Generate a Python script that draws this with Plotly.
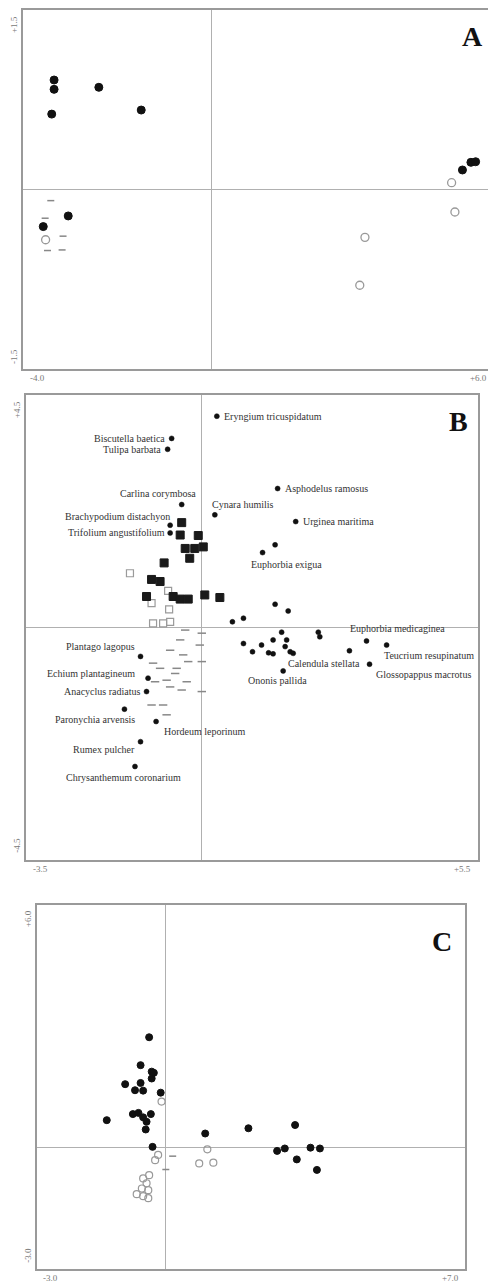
import plotly.graph_objects as go

# ---------------- Panel A ----------------
a_fill_x = [-3.34, -3.34, -3.39, -2.39, -1.49, -3.04, -3.57, 5.33, 5.51, 5.61]
a_fill_y = [0.915, 0.837, 0.63, 0.854, 0.664, -0.221, -0.31, 0.163, 0.227, 0.232]
a_open_x = [5.10, 5.17, 3.26, 3.15, -3.52]
a_open_y = [0.057, -0.188, -0.40, -0.80, -0.42]
a_small_x = [-3.41, -3.53, -3.15, -3.48, -3.17]
a_small_y = [-0.093, -0.24, -0.39, -0.51, -0.505]
a_xrange = [-4.0, 6.0]
a_yrange = [-1.5, 1.5]
a_xticks = ["-4.0", "+6.0"]
a_yticks = ["-1.5", "+1.5"]

# ---------------- Panel B ----------------
b_species = ["Eryngium tricuspidatum", "Biscutella baetica", "Tulipa barbata",
             "Asphodelus ramosus", "Carlina corymbosa", "Cynara humilis",
             "Brachypodium distachyon", "Trifolium angustifolium", "Urginea maritima",
             "Euphorbia exigua", "Euphorbia medicaginea", "Teucrium resupinatum",
             "Calendula stellata", "Glossopappus macrotus", "Ononis pallida",
             "Plantago lagopus", "Echium plantagineum", "Anacyclus radiatus",
             "Paronychia arvensis", "Hordeum leporinum", "Rumex pulcher",
             "Chrysanthemum coronarium"]
b_species_x = [0.30, -0.60, -0.68, 1.51, -0.40, 0.26, -0.63, -0.63, 1.87,
               1.21, 3.28, 3.68, 2.94, 3.34, 1.62, -1.22, -1.07, -1.10,
               -1.54, -0.91, -1.22, -1.33]
b_species_y = [4.09, 3.66, 3.45, 2.69, 2.38, 2.18, 1.98, 1.83, 2.05,
               1.45, -0.26, -0.34, -0.45, -0.71, -0.84, -0.56, -0.98, -1.24,
               -1.58, -1.82, -2.21, -2.69]
# label placement: (anchor, xshift, yshift)
b_label_pos = [("left", 5, 0), ("right", -5, 0), ("right", -5, 0),
               ("left", 5, 0), ("right", 16, 11), ("left", -5, 10),
               ("right", 2, 9), ("right", -3, 0), ("left", 5, 0),
               ("center", 24, -12), ("left", -19, 12), ("left", -5, -10),
               ("right", 13, -13), ("left", 4, -10), ("center", -6, -10),
               ("right", -4, 10), ("right", -11, 5), ("right", -5, 0),
               ("right", 13, -10), ("left", 6, -10), ("right", -4, -8),
               ("center", -11, -11)]

b_big_x = [-0.40, -0.43, -0.07, -0.33, -0.14, 0.03, -0.24, -0.75, -1.00, -0.83,
           -1.10, -0.57, -0.43, -0.27, 0.06, 0.36]
b_big_y = [2.03, 1.79, 1.78, 1.53, 1.53, 1.56, 1.34, 1.25, 0.93, 0.89,
           0.60, 0.60, 0.55, 0.55, 0.63, 0.58]
b_open_x = [-1.43, -0.67, -1.00, -0.65, -0.97, -0.77, -0.63]
b_open_y = [1.05, 0.71, 0.47, 0.35, 0.08, 0.08, 0.11]
b_dot_x = [1.46, 1.46, 1.72, 0.61, 0.83, 1.59, 2.32, 2.35, 0.83, 1.01, 1.19,
           1.42, 1.69, 1.66, 1.76, 1.33, 1.42, 1.82]
b_dot_y = [1.60, 0.45, 0.32, 0.11, 0.18, -0.09, -0.09, -0.18, -0.31, -0.47, -0.34,
           -0.24, -0.24, -0.37, -0.47, -0.49, -0.51, -0.50]
b_small_x = [-0.33, 0.00, -0.43, -0.04, -0.63, -0.37, -0.27, 0.00, -0.97, -0.83,
             -0.50, -0.53, -0.70, -0.30, -0.93, -0.63, -0.40, 0.00, -1.00, -0.77, -0.70]
b_small_y = [-0.05, -0.11, -0.24, -0.34, -0.44, -0.53, -0.66, -0.66, -0.69, -0.79,
             -0.79, -0.89, -1.02, -1.05, -1.05, -1.15, -1.21, -1.24, -1.50, -1.50, -1.69]
b_xrange = [-3.5, 5.5]
b_yrange = [-4.5, 4.5]
b_xticks = ["-3.5", "+5.5"]
b_yticks = ["-4.5", "+4.5"]

# ---------------- Panel C ----------------
c_fill_x = [-0.38, -0.58, -0.32, -0.27, -0.32, -0.94, -0.58, -0.71, -0.52, -0.11,
            -0.76, -0.63, -0.52, -0.34, -0.44, -0.46, -1.37, -0.30, 0.93, 1.94,
            3.03, 2.61, 2.79, 3.07, 3.39, 3.61, 3.54]
c_fill_y = [2.73, 2.04, 1.88, 1.85, 1.71, 1.57, 1.60, 1.42, 1.41, 1.36,
            0.83, 0.86, 0.75, 0.83, 0.64, 0.45, 0.68, 0.02, 0.35, 0.48,
            0.56, -0.08, -0.02, -0.29, 0.00, -0.02, -0.55]
c_open_x = [-0.09, 0.98, 0.79, 1.12, -0.17, -0.24, -0.38, -0.52, -0.44, -0.55,
            -0.40, -0.67, -0.52, -0.40]
c_open_y = [1.14, -0.04, -0.39, -0.37, -0.18, -0.31, -0.68, -0.76, -0.88, -1.01,
            -1.05, -1.15, -1.20, -1.25]
c_small_x = [0.17, 0.01]
c_small_y = [-0.21, -0.54]
c_xrange = [-3.0, 7.0]
c_yrange = [-3.0, 6.0]
c_xticks = ["-3.0", "+7.0"]
c_yticks = ["-3.0", "+6.0"]

PAGE_W, PAGE_H = 496, 1285
OFF = 8  # default body margin of the html page
W, H = PAGE_W - OFF, PAGE_H - OFF
FONT = "Liberation Serif"
FRAME = "#9a9a9a"
TICKFONT = dict(family=FONT, size=9, color="#777777")

fig = go.Figure()

def add_points(x, y, xa, ya, symbol, size, color, line_color, line_w):
    fig.add_trace(go.Scatter(
        x=x, y=y, xaxis=xa, yaxis=ya, mode="markers", showlegend=False,
        hoverinfo="skip", cliponaxis=False,
        marker=dict(symbol=symbol, size=size, color=color,
                    line=dict(color=line_color, width=line_w))))

# A
add_points(a_fill_x, a_fill_y, "x", "y", "circle", 8, "#111111", "#111111", 1)
add_points(a_open_x, a_open_y, "x", "y", "circle-open", 8, "#999999", "#999999", 1.3)
add_points(a_small_x, a_small_y, "x", "y", "line-ew-open", 5, "#888888", "#888888", 1.5)
# B
add_points(b_small_x, b_small_y, "x2", "y2", "line-ew-open", 6, "#888888", "#888888", 1.5)
add_points(b_open_x, b_open_y, "x2", "y2", "square-open", 7, "#9a9a9a", "#9a9a9a", 1.2)
add_points(b_big_x, b_big_y, "x2", "y2", "square", 8, "#1a1a1a", "#1a1a1a", 1)
add_points(b_dot_x, b_dot_y, "x2", "y2", "circle", 5, "#111111", "#111111", 0.5)
add_points(b_species_x, b_species_y, "x2", "y2", "circle", 5, "#111111", "#111111", 0.5)
# C
add_points(c_open_x, c_open_y, "x3", "y3", "circle-open", 7, "#999999", "#999999", 1.2)
add_points(c_small_x, c_small_y, "x3", "y3", "line-ew-open", 5, "#888888", "#888888", 1.5)
add_points(c_fill_x, c_fill_y, "x3", "y3", "circle", 7, "#111111", "#111111", 1)

annotations = []
for name, sx, sy, (anc, dx, dy) in zip(b_species, b_species_x, b_species_y, b_label_pos):
    annotations.append(dict(x=sx, y=sy, xref="x2", yref="y2", text=name,
                            showarrow=False, xanchor=anc, yanchor="middle",
                            xshift=dx, yshift=dy,
                            font=dict(family=FONT, size=10, color="#333333")))

# (letter, xaxis, yaxis, x-labels, y-labels, letter position in axis-domain units)
panels = [("A", "x", "y", a_xticks, a_yticks, (0.955, 0.925)),
          ("B", "x2", "y2", b_xticks, b_yticks, (0.956, 0.942)),
          ("C", "x3", "y3", c_xticks, c_yticks, (0.946, 0.90))]
for letter, xa, ya, xt, yt, (lx, ly) in panels:
    annotations.append(dict(x=lx, y=ly, xref=xa + " domain", yref=ya + " domain",
                            text="<b>%s</b>" % letter, showarrow=False,
                            xanchor="center", yanchor="middle",
                            font=dict(family=FONT, size=28, color="#111111")))
    # end-of-axis range labels
    annotations.append(dict(x=0.01, y=0, xref=xa + " domain", yref=ya + " domain",
                            text=xt[0], showarrow=False, xanchor="left", yanchor="top",
                            yshift=-2, font=TICKFONT))
    annotations.append(dict(x=0.99, y=0, xref=xa + " domain", yref=ya + " domain",
                            text=xt[1], showarrow=False, xanchor="right", yanchor="top",
                            yshift=-2, font=TICKFONT))
    annotations.append(dict(x=0, y=0.99, xref=xa + " domain", yref=ya + " domain",
                            text=yt[1], showarrow=False, xanchor="right", yanchor="top",
                            xshift=-2, textangle=-90, font=TICKFONT))
    annotations.append(dict(x=0, y=0.01, xref=xa + " domain", yref=ya + " domain",
                            text=yt[0], showarrow=False, xanchor="right", yanchor="bottom",
                            xshift=-2, textangle=-90, font=TICKFONT))

def xaxis(domain, anchor, rng):
    return dict(domain=domain, anchor=anchor, range=rng, showgrid=False,
                zeroline=True, zerolinecolor="#b0b0b0", zerolinewidth=1,
                showline=True, linecolor=FRAME, linewidth=2, mirror=True,
                showticklabels=False, ticks="", automargin=False,
                fixedrange=True)

def yaxis(domain, anchor, rng, step):
    return dict(domain=domain, anchor=anchor, range=rng, showgrid=False,
                zeroline=True, zerolinecolor="#b0b0b0", zerolinewidth=1,
                showline=True, linecolor=FRAME, linewidth=2, mirror=True,
                showticklabels=False, ticks="", automargin=False,
                minor=dict(ticks="inside", ticklen=3, tickcolor="#c8c8c8", dtick=step),
                fixedrange=True)

def px_x(a, b):
    return [(a - OFF) / W, (b - OFF) / W]

def px_y(top, bottom):
    return [1 - (bottom - OFF) / H, 1 - (top - OFF) / H]

fig.update_layout(
    width=W, height=H,
    margin=dict(l=0, r=0, t=0, b=0),
    paper_bgcolor="white", plot_bgcolor="white",
    xaxis=xaxis(px_x(23, 494), "y", a_xrange),
    yaxis=yaxis(px_y(10, 369), "x", a_yrange, 0.5),
    xaxis2=xaxis(px_x(26, 478), "y2", b_xrange),
    yaxis2=yaxis(px_y(395, 860), "x2", b_yrange, 1.0),
    xaxis3=xaxis(px_x(37, 465), "y3", c_xrange),
    yaxis3=yaxis(px_y(905, 1269), "x3", c_yrange, 1.0),
    annotations=annotations,
)

fig.write_html("out.html")
